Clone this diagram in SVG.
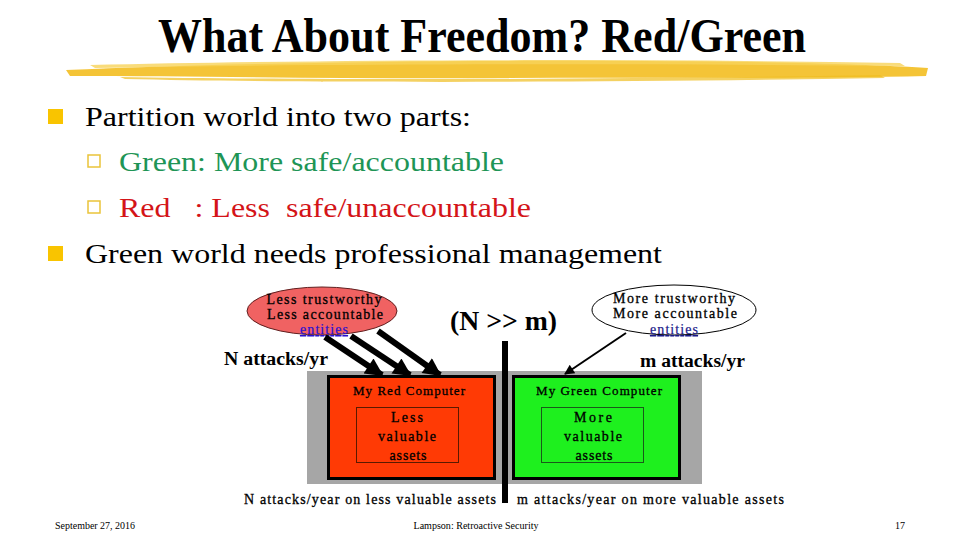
<svg xmlns="http://www.w3.org/2000/svg" width="960" height="540" viewBox="0 0 960 540" font-family="'Liberation Serif', 'DejaVu Serif', serif">
<defs>
<style>
.title{font-size:49px;font-weight:bold;fill:#000}
.b1{font-size:28px;fill:#000}
.small{font-size:14px;fill:#000;stroke:#000;stroke-width:0.3}
.bold{font-weight:bold}
.ent{font-size:14px;fill:#2a10d0;stroke:#2a10d0;stroke-width:0.2;text-decoration:underline}
.foot{font-size:10px;fill:#000}
.thick{stroke:#000;stroke-width:6;fill:none}
</style>
<marker id="bigHead" viewBox="0 0 10 10" refX="9" refY="5" markerWidth="3.4" markerHeight="3" orient="auto" markerUnits="strokeWidth">
<path d="M0,0 L10,5 L0,10 z" fill="#000"/>
</marker>
<marker id="thinHead" viewBox="0 0 10 10" refX="9" refY="5" markerWidth="6" markerHeight="5" orient="auto" markerUnits="strokeWidth">
<path d="M0,0 L10,5 L0,10 z" fill="#000"/>
</marker>
</defs>
<rect width="960" height="540" fill="#fff"/>

<g id="title">
<path d="M66,70 C200,64 400,60 600,61 C750,61 860,64 928,68 L926,76 C800,79 650,77 500,78 C350,79 200,76 70,76 Z" fill="#f3c12c" opacity="0.95"/>
<path d="M90,65 C300,60 600,58 900,63 L905,66 C600,63 300,64 95,68 Z" fill="#f7d35a" opacity="0.8"/>
<path d="M120,77 C300,80 600,80 880,75 L885,78 C600,83 300,83 125,79 Z" fill="#f0bd20" opacity="0.7"/>
<text class="title" x="158" y="52" textLength="648" lengthAdjust="spacingAndGlyphs">What About Freedom? Red/Green</text>
</g>

<g id="bullets">
<rect x="48" y="109" width="15" height="15" fill="#f9c400"/>
<text class="b1" x="85" y="126" textLength="386" lengthAdjust="spacingAndGlyphs">Partition world into two parts:</text>
<rect x="88" y="155" width="12" height="12" fill="none" stroke="#eac43a" stroke-width="1.5"/>
<text class="b1" x="119" y="171" style="fill:#1e9556" textLength="385" lengthAdjust="spacingAndGlyphs">Green: More safe/accountable</text>
<rect x="88" y="201" width="12" height="12" fill="none" stroke="#eac43a" stroke-width="1.5"/>
<text class="b1" x="119" y="217" style="fill:#d41418" xml:space="preserve" textLength="412" lengthAdjust="spacingAndGlyphs">Red   : Less  safe/unaccountable</text>
<rect x="48" y="246" width="15" height="15" fill="#f9c400"/>
<text class="b1" x="85" y="263" textLength="577" lengthAdjust="spacingAndGlyphs">Green world needs professional management</text>
</g>

<g id="red-entities">
<ellipse cx="322" cy="311" rx="75" ry="24" fill="#f06262" stroke="#602020" stroke-width="1"/>
<text class="small" x="324" y="304" text-anchor="middle" textLength="115" lengthAdjust="spacing">Less trustworthy</text>
<text class="small" x="325" y="319" text-anchor="middle" textLength="116" lengthAdjust="spacing">Less accountable</text>
<text class="ent" x="324" y="334" text-anchor="middle" textLength="48" lengthAdjust="spacing">entities</text>
</g>

<g id="green-entities">
<ellipse cx="674" cy="310" rx="82" ry="25" fill="#fff" stroke="#000" stroke-width="1"/>
<text class="small" x="674" y="303" text-anchor="middle" textLength="122" lengthAdjust="spacing">More trustworthy</text>
<text class="small" x="675" y="318" text-anchor="middle" textLength="124" lengthAdjust="spacing">More accountable</text>
<text class="ent" x="674" y="334" text-anchor="middle" style="fill:#1a1a8a;stroke:#1a1a8a" textLength="48" lengthAdjust="spacing">entities</text>
</g>

<g id="labels">
<text class="bold" x="450" y="330" font-size="27" textLength="107" lengthAdjust="spacingAndGlyphs">(N &gt;&gt; m)</text>
<text class="bold" x="224" y="365" font-size="18" textLength="104" lengthAdjust="spacingAndGlyphs">N attacks/yr</text>
<text class="bold" x="640" y="367" font-size="18" textLength="105" lengthAdjust="spacingAndGlyphs">m attacks/yr</text>
</g>

<g id="computers">
<rect x="307" y="371" width="395" height="113" fill="#a6a6a6"/>
<rect x="328.5" y="376.5" width="166" height="102" fill="#ff3a05" stroke="#000" stroke-width="3"/>
<rect x="513.5" y="376.5" width="166" height="102" fill="#1ef01e" stroke="#000" stroke-width="3"/>
</g>

<g id="red-computer">
<text class="small" x="409" y="395" text-anchor="middle" style="font-size:13px" textLength="112" lengthAdjust="spacing">My Red Computer</text>
<rect x="356.5" y="407.5" width="102" height="55" fill="none" stroke="#5a1a00" stroke-width="1"/>
<text class="small" x="407" y="422" text-anchor="middle" textLength="32" lengthAdjust="spacing">Less</text>
<text class="small" x="407" y="441" text-anchor="middle" textLength="58" lengthAdjust="spacing">valuable</text>
<text class="small" x="408" y="460" text-anchor="middle" textLength="37" lengthAdjust="spacing">assets</text>
</g>

<g id="green-computer">
<text class="small" x="599" y="395" text-anchor="middle" style="font-size:13px" textLength="126" lengthAdjust="spacing">My Green Computer</text>
<rect x="541.5" y="407.5" width="102" height="55" fill="none" stroke="#1a5a1a" stroke-width="1"/>
<text class="small" x="593" y="422" text-anchor="middle" textLength="38" lengthAdjust="spacing">More</text>
<text class="small" x="593" y="441" text-anchor="middle" textLength="58" lengthAdjust="spacing">valuable</text>
<text class="small" x="594" y="460" text-anchor="middle" textLength="37" lengthAdjust="spacing">assets</text>
</g>

<g id="divider">
<rect x="502" y="341" width="6" height="162" fill="#000"/>
</g>

<g id="connectors">
<line class="thick" x1="325" y1="337" x2="382" y2="375" marker-end="url(#bigHead)"/>
<line class="thick" x1="351" y1="336" x2="410" y2="375" marker-end="url(#bigHead)"/>
<line class="thick" x1="378" y1="331" x2="440" y2="375" marker-end="url(#bigHead)"/>
<line x1="626" y1="333" x2="565" y2="374" stroke="#000" stroke-width="2" marker-end="url(#thinHead)"/>
</g>

<g id="bottom-labels">
<text class="small" x="244" y="504" textLength="252" lengthAdjust="spacing">N attacks/year on less valuable assets</text>
<text class="small" x="517" y="504" textLength="267" lengthAdjust="spacing">m attacks/year on more valuable assets</text>
</g>

<g id="footer">
<text class="foot" x="55" y="529" textLength="80" lengthAdjust="spacingAndGlyphs">September 27, 2016</text>
<text class="foot" x="476" y="529" text-anchor="middle" textLength="125" lengthAdjust="spacingAndGlyphs">Lampson: Retroactive Security</text>
<text class="foot" x="895" y="529" textLength="10" lengthAdjust="spacingAndGlyphs">17</text>
</g>
</svg>
